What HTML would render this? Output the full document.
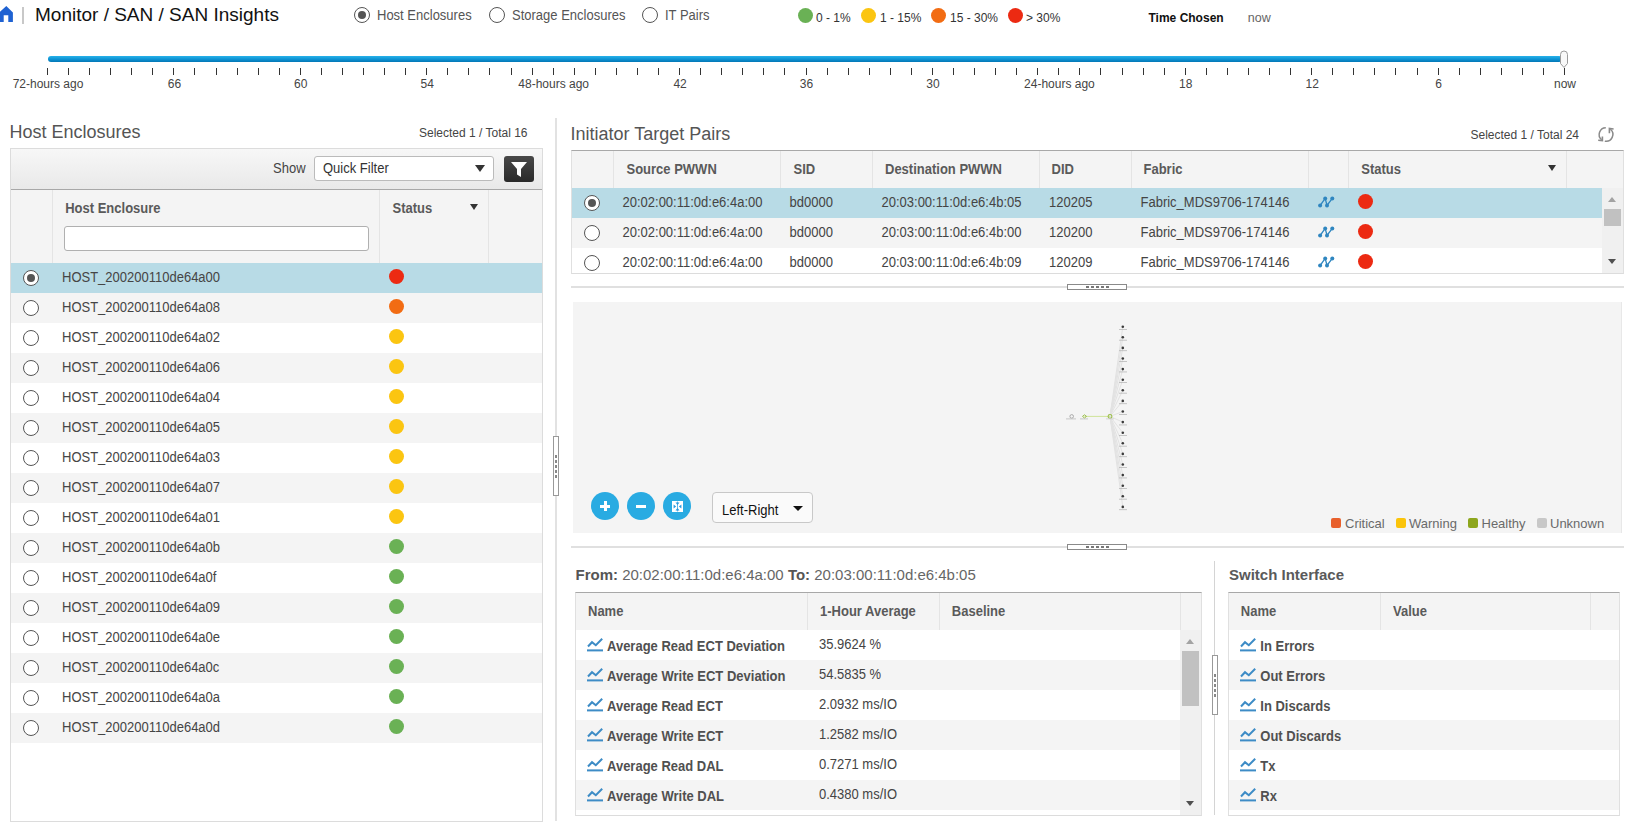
<!DOCTYPE html>
<html><head><meta charset="utf-8"><title>SAN Insights</title>
<style>
html,body{margin:0;padding:0;background:#fff;}
body{width:1630px;height:823px;overflow:hidden;position:relative;font-family:"Liberation Sans",sans-serif;}
.t{position:absolute;white-space:nowrap;line-height:1;}
.r{position:absolute;box-sizing:border-box;}
.dot{position:absolute;border-radius:50%;}
.radio{position:absolute;width:14px;height:14px;border:1px solid #555;border-radius:50%;background:#fff;}
.radio i{position:absolute;left:3px;top:3px;width:8px;height:8px;border-radius:50%;background:#555;}
.vl{position:absolute;width:1px;background:#e2e2e2;}
</style></head><body>
<svg class="r" style="left:0;top:6px" width="14" height="17" viewBox="0 0 14 17"><path d="M6.3,0 L12.9,6.6 L12.9,16 L8.3,16 L8.3,9.3 L3.7,9.3 L3.7,16 L-1,16 L-1,6.6 Z" fill="#1f62d2"/></svg>
<div class="r" style="left:22px;top:7px;width:1.5px;height:17px;background:#c8c8c8;"></div>
<div class="t" style="left:35.0px;top:4.9px;font-size:19px;color:#111;">Monitor / SAN / SAN Insights</div>
<div class="radio" style="left:354px;top:7px"><i></i></div>
<div class="t" style="left:377.0px;top:8.9px;font-size:13px;color:#555;transform:scaleY(1.1);transform-origin:0 11.01px;">Host Enclosures</div>
<div class="radio" style="left:489px;top:7px"></div>
<div class="t" style="left:512.0px;top:8.9px;font-size:13px;color:#555;transform:scaleY(1.1);transform-origin:0 11.01px;">Storage Enclosures</div>
<div class="radio" style="left:642px;top:7px"></div>
<div class="t" style="left:665.0px;top:8.9px;font-size:13px;color:#555;transform:scaleY(1.1);transform-origin:0 11.01px;">IT Pairs</div>
<div class="dot" style="left:798.0px;top:7.5px;width:15px;height:15px;background:#6ab155"></div>
<div class="t" style="left:816.0px;top:11.8px;font-size:12px;color:#333;">0 - 1%</div>
<div class="dot" style="left:860.5px;top:7.5px;width:15px;height:15px;background:#fbc511"></div>
<div class="t" style="left:880.0px;top:11.8px;font-size:12px;color:#333;">1 - 15%</div>
<div class="dot" style="left:931.3px;top:7.5px;width:15px;height:15px;background:#f26c13"></div>
<div class="t" style="left:950.0px;top:11.8px;font-size:12px;color:#333;">15 - 30%</div>
<div class="dot" style="left:1008.0px;top:7.5px;width:15px;height:15px;background:#ec2a12"></div>
<div class="t" style="left:1026.0px;top:11.8px;font-size:12px;color:#333;">&gt; 30%</div>
<div class="t" style="left:1148.5px;top:12.2px;font-size:12px;color:#111;font-weight:bold;">Time Chosen</div>
<div class="t" style="left:1247.8px;top:11.8px;font-size:12.5px;color:#666;">now</div>
<div class="r" style="left:48px;top:56px;width:1514px;height:6px;background:linear-gradient(#27b2ea,#0a8fd0 60%,#0577b5);border-radius:3px;"></div>
<svg class="r" style="left:1559px;top:50px" width="10" height="20" viewBox="0 0 10 20"><path d="M1.5,4.5 A3.5,3.5 0 0 1 8.5,4.5 L8.5,13.5 L5,17.5 L1.5,13.5 Z" fill="#f8f8f8" stroke="#9a9a9a" stroke-width="1"/></svg>
<div class="r" style="left:47px;top:68px;width:1px;height:7px;background:#333"></div>
<div class="r" style="left:68px;top:68px;width:1px;height:7px;background:#333"></div>
<div class="r" style="left:89px;top:68px;width:1px;height:7px;background:#333"></div>
<div class="r" style="left:110px;top:68px;width:1px;height:7px;background:#333"></div>
<div class="r" style="left:131px;top:68px;width:1px;height:7px;background:#333"></div>
<div class="r" style="left:152px;top:68px;width:1px;height:7px;background:#333"></div>
<div class="r" style="left:173px;top:68px;width:1px;height:7px;background:#333"></div>
<div class="r" style="left:194px;top:68px;width:1px;height:7px;background:#333"></div>
<div class="r" style="left:216px;top:68px;width:1px;height:7px;background:#333"></div>
<div class="r" style="left:237px;top:68px;width:1px;height:7px;background:#333"></div>
<div class="r" style="left:258px;top:68px;width:1px;height:7px;background:#333"></div>
<div class="r" style="left:279px;top:68px;width:1px;height:7px;background:#333"></div>
<div class="r" style="left:300px;top:68px;width:1px;height:7px;background:#333"></div>
<div class="r" style="left:321px;top:68px;width:1px;height:7px;background:#333"></div>
<div class="r" style="left:342px;top:68px;width:1px;height:7px;background:#333"></div>
<div class="r" style="left:363px;top:68px;width:1px;height:7px;background:#333"></div>
<div class="r" style="left:384px;top:68px;width:1px;height:7px;background:#333"></div>
<div class="r" style="left:405px;top:68px;width:1px;height:7px;background:#333"></div>
<div class="r" style="left:426px;top:68px;width:1px;height:7px;background:#333"></div>
<div class="r" style="left:447px;top:68px;width:1px;height:7px;background:#333"></div>
<div class="r" style="left:468px;top:68px;width:1px;height:7px;background:#333"></div>
<div class="r" style="left:489px;top:68px;width:1px;height:7px;background:#333"></div>
<div class="r" style="left:511px;top:68px;width:1px;height:7px;background:#333"></div>
<div class="r" style="left:532px;top:68px;width:1px;height:7px;background:#333"></div>
<div class="r" style="left:553px;top:68px;width:1px;height:7px;background:#333"></div>
<div class="r" style="left:574px;top:68px;width:1px;height:7px;background:#333"></div>
<div class="r" style="left:595px;top:68px;width:1px;height:7px;background:#333"></div>
<div class="r" style="left:616px;top:68px;width:1px;height:7px;background:#333"></div>
<div class="r" style="left:637px;top:68px;width:1px;height:7px;background:#333"></div>
<div class="r" style="left:658px;top:68px;width:1px;height:7px;background:#333"></div>
<div class="r" style="left:679px;top:68px;width:1px;height:7px;background:#333"></div>
<div class="r" style="left:700px;top:68px;width:1px;height:7px;background:#333"></div>
<div class="r" style="left:721px;top:68px;width:1px;height:7px;background:#333"></div>
<div class="r" style="left:742px;top:68px;width:1px;height:7px;background:#333"></div>
<div class="r" style="left:763px;top:68px;width:1px;height:7px;background:#333"></div>
<div class="r" style="left:784px;top:68px;width:1px;height:7px;background:#333"></div>
<div class="r" style="left:806px;top:68px;width:1px;height:7px;background:#333"></div>
<div class="r" style="left:827px;top:68px;width:1px;height:7px;background:#333"></div>
<div class="r" style="left:848px;top:68px;width:1px;height:7px;background:#333"></div>
<div class="r" style="left:869px;top:68px;width:1px;height:7px;background:#333"></div>
<div class="r" style="left:890px;top:68px;width:1px;height:7px;background:#333"></div>
<div class="r" style="left:911px;top:68px;width:1px;height:7px;background:#333"></div>
<div class="r" style="left:932px;top:68px;width:1px;height:7px;background:#333"></div>
<div class="r" style="left:953px;top:68px;width:1px;height:7px;background:#333"></div>
<div class="r" style="left:974px;top:68px;width:1px;height:7px;background:#333"></div>
<div class="r" style="left:995px;top:68px;width:1px;height:7px;background:#333"></div>
<div class="r" style="left:1016px;top:68px;width:1px;height:7px;background:#333"></div>
<div class="r" style="left:1037px;top:68px;width:1px;height:7px;background:#333"></div>
<div class="r" style="left:1058px;top:68px;width:1px;height:7px;background:#333"></div>
<div class="r" style="left:1079px;top:68px;width:1px;height:7px;background:#333"></div>
<div class="r" style="left:1100px;top:68px;width:1px;height:7px;background:#333"></div>
<div class="r" style="left:1122px;top:68px;width:1px;height:7px;background:#333"></div>
<div class="r" style="left:1143px;top:68px;width:1px;height:7px;background:#333"></div>
<div class="r" style="left:1164px;top:68px;width:1px;height:7px;background:#333"></div>
<div class="r" style="left:1185px;top:68px;width:1px;height:7px;background:#333"></div>
<div class="r" style="left:1206px;top:68px;width:1px;height:7px;background:#333"></div>
<div class="r" style="left:1227px;top:68px;width:1px;height:7px;background:#333"></div>
<div class="r" style="left:1248px;top:68px;width:1px;height:7px;background:#333"></div>
<div class="r" style="left:1269px;top:68px;width:1px;height:7px;background:#333"></div>
<div class="r" style="left:1290px;top:68px;width:1px;height:7px;background:#333"></div>
<div class="r" style="left:1311px;top:68px;width:1px;height:7px;background:#333"></div>
<div class="r" style="left:1332px;top:68px;width:1px;height:7px;background:#333"></div>
<div class="r" style="left:1353px;top:68px;width:1px;height:7px;background:#333"></div>
<div class="r" style="left:1374px;top:68px;width:1px;height:7px;background:#333"></div>
<div class="r" style="left:1395px;top:68px;width:1px;height:7px;background:#333"></div>
<div class="r" style="left:1417px;top:68px;width:1px;height:7px;background:#333"></div>
<div class="r" style="left:1438px;top:68px;width:1px;height:7px;background:#333"></div>
<div class="r" style="left:1459px;top:68px;width:1px;height:7px;background:#333"></div>
<div class="r" style="left:1480px;top:68px;width:1px;height:7px;background:#333"></div>
<div class="r" style="left:1501px;top:68px;width:1px;height:7px;background:#333"></div>
<div class="r" style="left:1522px;top:68px;width:1px;height:7px;background:#333"></div>
<div class="r" style="left:1543px;top:68px;width:1px;height:7px;background:#333"></div>
<div class="r" style="left:1564px;top:68px;width:1px;height:7px;background:#333"></div>
<div class="t" style="left:-52.0px;width:200px;text-align:center;top:77.8px;font-size:12px;color:#444">72-hours ago</div>
<div class="t" style="left:74.4px;width:200px;text-align:center;top:77.8px;font-size:12px;color:#444">66</div>
<div class="t" style="left:200.8px;width:200px;text-align:center;top:77.8px;font-size:12px;color:#444">60</div>
<div class="t" style="left:327.3px;width:200px;text-align:center;top:77.8px;font-size:12px;color:#444">54</div>
<div class="t" style="left:453.7px;width:200px;text-align:center;top:77.8px;font-size:12px;color:#444">48-hours ago</div>
<div class="t" style="left:580.1px;width:200px;text-align:center;top:77.8px;font-size:12px;color:#444">42</div>
<div class="t" style="left:706.5px;width:200px;text-align:center;top:77.8px;font-size:12px;color:#444">36</div>
<div class="t" style="left:832.9px;width:200px;text-align:center;top:77.8px;font-size:12px;color:#444">30</div>
<div class="t" style="left:959.4px;width:200px;text-align:center;top:77.8px;font-size:12px;color:#444">24-hours ago</div>
<div class="t" style="left:1085.8px;width:200px;text-align:center;top:77.8px;font-size:12px;color:#444">18</div>
<div class="t" style="left:1212.2px;width:200px;text-align:center;top:77.8px;font-size:12px;color:#444">12</div>
<div class="t" style="left:1338.6px;width:200px;text-align:center;top:77.8px;font-size:12px;color:#444">6</div>
<div class="t" style="left:1465.0px;width:200px;text-align:center;top:77.8px;font-size:12px;color:#444">now</div>
<div class="t" style="left:9.5px;top:122.7px;font-size:18px;color:#555;">Host Enclosures</div>
<div class="t" style="right:1102.5px;top:126.8px;font-size:12px;color:#444;">Selected 1 / Total 16</div>
<div class="r" style="left:10px;top:148px;width:533px;height:674px;background:#fff;border:1px solid #dcdcdc;"></div>
<div class="r" style="left:11px;top:149px;width:531px;height:40px;background:linear-gradient(#f7f7f7,#e9e9e9);"></div>
<div class="r" style="left:11px;top:189px;width:531px;height:1px;background:#a8a8a8;"></div>
<div class="t" style="left:273.0px;top:162.4px;font-size:13px;color:#444;transform:scaleY(1.1);transform-origin:0 11.01px;">Show</div>
<div class="r" style="left:314px;top:156px;width:180px;height:25px;background:#fff;border:1px solid #bbb;border-radius:3px;"></div>
<div class="t" style="left:323.0px;top:162.4px;font-size:13px;color:#333;transform:scaleY(1.1);transform-origin:0 11.01px;">Quick Filter</div>
<div class="r" style="left:475px;top:165px;width:0;height:0;border-left:5.0px solid transparent;border-right:5.0px solid transparent;border-top:7px solid #333"></div>
<div class="r" style="left:504px;top:156px;width:30px;height:26px;background:linear-gradient(#484848,#2a2a2a);border-radius:3px;"></div>
<svg class="r" style="left:510px;top:161px" width="18" height="17" viewBox="0 0 18 17"><path d="M1,1 L17,1 L11,8 L11,16 L7,13.5 L7,8 Z" fill="#fff"/></svg>
<div class="r" style="left:11px;top:190px;width:531px;height:73px;background:#f4f4f4;"></div>
<div class="vl" style="left:52px;top:190px;height:73px;background:#e4e4e4"></div>
<div class="vl" style="left:379px;top:190px;height:73px;background:#e4e4e4"></div>
<div class="vl" style="left:488px;top:190px;height:73px;background:#e4e4e4"></div>
<div class="t" style="left:65.2px;top:202.0px;font-size:13px;color:#5a5a5a;font-weight:bold;transform:scaleY(1.06);transform-origin:0 11.01px;">Host Enclosure</div>
<div class="r" style="left:64px;top:226px;width:305px;height:25px;background:#fff;border:1px solid #b0b0b0;border-radius:3px;"></div>
<div class="t" style="left:392.5px;top:202.0px;font-size:13px;color:#5a5a5a;font-weight:bold;transform:scaleY(1.06);transform-origin:0 11.01px;">Status</div>
<div class="r" style="left:470px;top:204px;width:0;height:0;border-left:4.5px solid transparent;border-right:4.5px solid transparent;border-top:6px solid #333"></div>
<div class="r" style="left:11px;top:263px;width:531px;height:30px;background:#b8dbe6;"></div>
<div class="radio" style="left:23px;top:270px"><i></i></div>
<div class="t" style="left:62.0px;top:271.0px;font-size:13px;color:#454545;transform:scaleY(1.1);transform-origin:0 11.01px;">HOST_200200110de64a00</div>
<div class="dot" style="left:388.9px;top:269.0px;width:15px;height:15px;background:#ec2a12"></div>
<div class="r" style="left:11px;top:293px;width:531px;height:30px;background:#f4f4f4;"></div>
<div class="radio" style="left:23px;top:300px"></div>
<div class="t" style="left:62.0px;top:301.0px;font-size:13px;color:#454545;transform:scaleY(1.1);transform-origin:0 11.01px;">HOST_200200110de64a08</div>
<div class="dot" style="left:388.9px;top:299.0px;width:15px;height:15px;background:#f26c13"></div>
<div class="r" style="left:11px;top:323px;width:531px;height:30px;background:#fff;"></div>
<div class="radio" style="left:23px;top:330px"></div>
<div class="t" style="left:62.0px;top:331.0px;font-size:13px;color:#454545;transform:scaleY(1.1);transform-origin:0 11.01px;">HOST_200200110de64a02</div>
<div class="dot" style="left:388.9px;top:329.0px;width:15px;height:15px;background:#fbc511"></div>
<div class="r" style="left:11px;top:353px;width:531px;height:30px;background:#f4f4f4;"></div>
<div class="radio" style="left:23px;top:360px"></div>
<div class="t" style="left:62.0px;top:361.0px;font-size:13px;color:#454545;transform:scaleY(1.1);transform-origin:0 11.01px;">HOST_200200110de64a06</div>
<div class="dot" style="left:388.9px;top:359.0px;width:15px;height:15px;background:#fbc511"></div>
<div class="r" style="left:11px;top:383px;width:531px;height:30px;background:#fff;"></div>
<div class="radio" style="left:23px;top:390px"></div>
<div class="t" style="left:62.0px;top:391.0px;font-size:13px;color:#454545;transform:scaleY(1.1);transform-origin:0 11.01px;">HOST_200200110de64a04</div>
<div class="dot" style="left:388.9px;top:389.0px;width:15px;height:15px;background:#fbc511"></div>
<div class="r" style="left:11px;top:413px;width:531px;height:30px;background:#f4f4f4;"></div>
<div class="radio" style="left:23px;top:420px"></div>
<div class="t" style="left:62.0px;top:421.0px;font-size:13px;color:#454545;transform:scaleY(1.1);transform-origin:0 11.01px;">HOST_200200110de64a05</div>
<div class="dot" style="left:388.9px;top:419.0px;width:15px;height:15px;background:#fbc511"></div>
<div class="r" style="left:11px;top:443px;width:531px;height:30px;background:#fff;"></div>
<div class="radio" style="left:23px;top:450px"></div>
<div class="t" style="left:62.0px;top:451.0px;font-size:13px;color:#454545;transform:scaleY(1.1);transform-origin:0 11.01px;">HOST_200200110de64a03</div>
<div class="dot" style="left:388.9px;top:449.0px;width:15px;height:15px;background:#fbc511"></div>
<div class="r" style="left:11px;top:473px;width:531px;height:30px;background:#f4f4f4;"></div>
<div class="radio" style="left:23px;top:480px"></div>
<div class="t" style="left:62.0px;top:481.0px;font-size:13px;color:#454545;transform:scaleY(1.1);transform-origin:0 11.01px;">HOST_200200110de64a07</div>
<div class="dot" style="left:388.9px;top:479.0px;width:15px;height:15px;background:#fbc511"></div>
<div class="r" style="left:11px;top:503px;width:531px;height:30px;background:#fff;"></div>
<div class="radio" style="left:23px;top:510px"></div>
<div class="t" style="left:62.0px;top:511.0px;font-size:13px;color:#454545;transform:scaleY(1.1);transform-origin:0 11.01px;">HOST_200200110de64a01</div>
<div class="dot" style="left:388.9px;top:509.0px;width:15px;height:15px;background:#fbc511"></div>
<div class="r" style="left:11px;top:533px;width:531px;height:30px;background:#f4f4f4;"></div>
<div class="radio" style="left:23px;top:540px"></div>
<div class="t" style="left:62.0px;top:541.0px;font-size:13px;color:#454545;transform:scaleY(1.1);transform-origin:0 11.01px;">HOST_200200110de64a0b</div>
<div class="dot" style="left:388.9px;top:539.0px;width:15px;height:15px;background:#6ab155"></div>
<div class="r" style="left:11px;top:563px;width:531px;height:30px;background:#fff;"></div>
<div class="radio" style="left:23px;top:570px"></div>
<div class="t" style="left:62.0px;top:571.0px;font-size:13px;color:#454545;transform:scaleY(1.1);transform-origin:0 11.01px;">HOST_200200110de64a0f</div>
<div class="dot" style="left:388.9px;top:569.0px;width:15px;height:15px;background:#6ab155"></div>
<div class="r" style="left:11px;top:593px;width:531px;height:30px;background:#f4f4f4;"></div>
<div class="radio" style="left:23px;top:600px"></div>
<div class="t" style="left:62.0px;top:601.0px;font-size:13px;color:#454545;transform:scaleY(1.1);transform-origin:0 11.01px;">HOST_200200110de64a09</div>
<div class="dot" style="left:388.9px;top:599.0px;width:15px;height:15px;background:#6ab155"></div>
<div class="r" style="left:11px;top:623px;width:531px;height:30px;background:#fff;"></div>
<div class="radio" style="left:23px;top:630px"></div>
<div class="t" style="left:62.0px;top:631.0px;font-size:13px;color:#454545;transform:scaleY(1.1);transform-origin:0 11.01px;">HOST_200200110de64a0e</div>
<div class="dot" style="left:388.9px;top:629.0px;width:15px;height:15px;background:#6ab155"></div>
<div class="r" style="left:11px;top:653px;width:531px;height:30px;background:#f4f4f4;"></div>
<div class="radio" style="left:23px;top:660px"></div>
<div class="t" style="left:62.0px;top:661.0px;font-size:13px;color:#454545;transform:scaleY(1.1);transform-origin:0 11.01px;">HOST_200200110de64a0c</div>
<div class="dot" style="left:388.9px;top:659.0px;width:15px;height:15px;background:#6ab155"></div>
<div class="r" style="left:11px;top:683px;width:531px;height:30px;background:#fff;"></div>
<div class="radio" style="left:23px;top:690px"></div>
<div class="t" style="left:62.0px;top:691.0px;font-size:13px;color:#454545;transform:scaleY(1.1);transform-origin:0 11.01px;">HOST_200200110de64a0a</div>
<div class="dot" style="left:388.9px;top:689.0px;width:15px;height:15px;background:#6ab155"></div>
<div class="r" style="left:11px;top:713px;width:531px;height:30px;background:#f4f4f4;"></div>
<div class="radio" style="left:23px;top:720px"></div>
<div class="t" style="left:62.0px;top:721.0px;font-size:13px;color:#454545;transform:scaleY(1.1);transform-origin:0 11.01px;">HOST_200200110de64a0d</div>
<div class="dot" style="left:388.9px;top:719.0px;width:15px;height:15px;background:#6ab155"></div>
<div class="r" style="left:555px;top:118px;width:2px;height:703px;background:#e2e2e2;"></div>
<div class="r" style="left:553px;top:436px;width:6px;height:60px;background:#fff;border:1px solid #999;"></div>
<div class="r" style="left:555px;top:455px;width:2px;height:3px;background:#888;"></div>
<div class="r" style="left:555px;top:460px;width:2px;height:3px;background:#888;"></div>
<div class="r" style="left:555px;top:465px;width:2px;height:3px;background:#888;"></div>
<div class="r" style="left:555px;top:470px;width:2px;height:3px;background:#888;"></div>
<div class="r" style="left:555px;top:475px;width:2px;height:3px;background:#888;"></div>
<div class="t" style="left:570.5px;top:124.6px;font-size:18px;color:#555;">Initiator Target Pairs</div>
<div class="t" style="right:51.0px;top:129.0px;font-size:12px;color:#444;">Selected 1 / Total 24</div>
<svg class="r" style="left:1596px;top:124px" width="22" height="22" viewBox="0 0 22 22"><path d="M9.8,3.7 A6.8,6.8 0 0 0 5.6,15.7" fill="none" stroke="#8a8a8a" stroke-width="1.5"/><path d="M8.8,17.2 A6.8,6.8 0 0 0 14.4,5.3" fill="none" stroke="#8a8a8a" stroke-width="1.5"/><polyline points="6.4,12.4 6.4,16.6 2.2,16.3" fill="none" stroke="#8a8a8a" stroke-width="1.6"/><polyline points="13.4,9.3 13.4,4.5 17.6,5.0" fill="none" stroke="#8a8a8a" stroke-width="1.6"/></svg>
<div class="r" style="left:571px;top:150px;width:1053px;height:124px;background:#fff;border-top:1px solid #a8a8a8;border-left:1px solid #e0e0e0;border-right:1px solid #e0e0e0;border-bottom:1px solid #dcdcdc;"></div>
<div class="r" style="left:572px;top:151px;width:1051px;height:37px;background:#f4f4f4;"></div>
<div class="vl" style="left:613px;top:151px;height:37px;background:#e4e4e4"></div>
<div class="vl" style="left:780px;top:151px;height:37px;background:#e4e4e4"></div>
<div class="vl" style="left:872px;top:151px;height:37px;background:#e4e4e4"></div>
<div class="vl" style="left:1039px;top:151px;height:37px;background:#e4e4e4"></div>
<div class="vl" style="left:1131px;top:151px;height:37px;background:#e4e4e4"></div>
<div class="vl" style="left:1308px;top:151px;height:37px;background:#e4e4e4"></div>
<div class="vl" style="left:1348px;top:151px;height:37px;background:#e4e4e4"></div>
<div class="vl" style="left:1566px;top:151px;height:37px;background:#e4e4e4"></div>
<div class="t" style="left:626.5px;top:163.0px;font-size:13px;color:#5a5a5a;font-weight:bold;transform:scaleY(1.06);transform-origin:0 11.01px;">Source PWWN</div>
<div class="t" style="left:793.5px;top:163.0px;font-size:13px;color:#5a5a5a;font-weight:bold;transform:scaleY(1.06);transform-origin:0 11.01px;">SID</div>
<div class="t" style="left:885.0px;top:163.0px;font-size:13px;color:#5a5a5a;font-weight:bold;transform:scaleY(1.06);transform-origin:0 11.01px;">Destination PWWN</div>
<div class="t" style="left:1051.5px;top:163.0px;font-size:13px;color:#5a5a5a;font-weight:bold;transform:scaleY(1.06);transform-origin:0 11.01px;">DID</div>
<div class="t" style="left:1143.5px;top:163.0px;font-size:13px;color:#5a5a5a;font-weight:bold;transform:scaleY(1.06);transform-origin:0 11.01px;">Fabric</div>
<div class="t" style="left:1361.3px;top:163.0px;font-size:13px;color:#5a5a5a;font-weight:bold;transform:scaleY(1.06);transform-origin:0 11.01px;">Status</div>
<div class="r" style="left:1548px;top:165px;width:0;height:0;border-left:4.5px solid transparent;border-right:4.5px solid transparent;border-top:6px solid #333"></div>
<div class="r" style="left:572px;top:188px;width:1030px;height:30px;background:#b8dbe6;"></div>
<div class="radio" style="left:584px;top:195px"><i></i></div>
<div class="t" style="left:622.5px;top:195.5px;font-size:13px;color:#444;transform:scaleY(1.1);transform-origin:0 11.01px;">20:02:00:11:0d:e6:4a:00</div>
<div class="t" style="left:789.5px;top:195.5px;font-size:13px;color:#444;transform:scaleY(1.1);transform-origin:0 11.01px;">bd0000</div>
<div class="t" style="left:881.5px;top:195.5px;font-size:13px;color:#444;transform:scaleY(1.1);transform-origin:0 11.01px;">20:03:00:11:0d:e6:4b:05</div>
<div class="t" style="left:1049.0px;top:195.5px;font-size:13px;color:#444;transform:scaleY(1.1);transform-origin:0 11.01px;">120205</div>
<div class="t" style="left:1140.5px;top:195.5px;font-size:13px;color:#444;transform:scaleY(1.1);transform-origin:0 11.01px;">Fabric_MDS9706-174146</div>
<svg class="r" style="left:1318px;top:196px" width="17" height="12" viewBox="0 0 17 12"><polyline points="2.1,9.5 7.2,2.4 9,9.5 14.3,2.4" fill="none" stroke="#2f86c0" stroke-width="1.3"/><circle cx="2.1" cy="9.5" r="2" fill="#2f86c0"/><circle cx="7.2" cy="2.4" r="2" fill="#2f86c0"/><circle cx="9" cy="9.5" r="2" fill="#2f86c0"/><circle cx="14.3" cy="2.4" r="2" fill="#2f86c0"/></svg>
<div class="dot" style="left:1357.9px;top:193.8px;width:15px;height:15px;background:#ec2a12"></div>
<div class="r" style="left:572px;top:218px;width:1030px;height:30px;background:#f4f4f4;"></div>
<div class="radio" style="left:584px;top:225px"></div>
<div class="t" style="left:622.5px;top:225.5px;font-size:13px;color:#444;transform:scaleY(1.1);transform-origin:0 11.01px;">20:02:00:11:0d:e6:4a:00</div>
<div class="t" style="left:789.5px;top:225.5px;font-size:13px;color:#444;transform:scaleY(1.1);transform-origin:0 11.01px;">bd0000</div>
<div class="t" style="left:881.5px;top:225.5px;font-size:13px;color:#444;transform:scaleY(1.1);transform-origin:0 11.01px;">20:03:00:11:0d:e6:4b:00</div>
<div class="t" style="left:1049.0px;top:225.5px;font-size:13px;color:#444;transform:scaleY(1.1);transform-origin:0 11.01px;">120200</div>
<div class="t" style="left:1140.5px;top:225.5px;font-size:13px;color:#444;transform:scaleY(1.1);transform-origin:0 11.01px;">Fabric_MDS9706-174146</div>
<svg class="r" style="left:1318px;top:226px" width="17" height="12" viewBox="0 0 17 12"><polyline points="2.1,9.5 7.2,2.4 9,9.5 14.3,2.4" fill="none" stroke="#2f86c0" stroke-width="1.3"/><circle cx="2.1" cy="9.5" r="2" fill="#2f86c0"/><circle cx="7.2" cy="2.4" r="2" fill="#2f86c0"/><circle cx="9" cy="9.5" r="2" fill="#2f86c0"/><circle cx="14.3" cy="2.4" r="2" fill="#2f86c0"/></svg>
<div class="dot" style="left:1357.9px;top:223.8px;width:15px;height:15px;background:#ec2a12"></div>
<div class="r" style="left:572px;top:248px;width:1030px;height:25px;background:#fff;"></div>
<div class="radio" style="left:584px;top:255px"></div>
<div class="t" style="left:622.5px;top:255.5px;font-size:13px;color:#444;transform:scaleY(1.1);transform-origin:0 11.01px;">20:02:00:11:0d:e6:4a:00</div>
<div class="t" style="left:789.5px;top:255.5px;font-size:13px;color:#444;transform:scaleY(1.1);transform-origin:0 11.01px;">bd0000</div>
<div class="t" style="left:881.5px;top:255.5px;font-size:13px;color:#444;transform:scaleY(1.1);transform-origin:0 11.01px;">20:03:00:11:0d:e6:4b:09</div>
<div class="t" style="left:1049.0px;top:255.5px;font-size:13px;color:#444;transform:scaleY(1.1);transform-origin:0 11.01px;">120209</div>
<div class="t" style="left:1140.5px;top:255.5px;font-size:13px;color:#444;transform:scaleY(1.1);transform-origin:0 11.01px;">Fabric_MDS9706-174146</div>
<svg class="r" style="left:1318px;top:256px" width="17" height="12" viewBox="0 0 17 12"><polyline points="2.1,9.5 7.2,2.4 9,9.5 14.3,2.4" fill="none" stroke="#2f86c0" stroke-width="1.3"/><circle cx="2.1" cy="9.5" r="2" fill="#2f86c0"/><circle cx="7.2" cy="2.4" r="2" fill="#2f86c0"/><circle cx="9" cy="9.5" r="2" fill="#2f86c0"/><circle cx="14.3" cy="2.4" r="2" fill="#2f86c0"/></svg>
<div class="dot" style="left:1357.9px;top:253.8px;width:15px;height:15px;background:#ec2a12"></div>
<div class="r" style="left:1602px;top:188px;width:21px;height:85px;background:#f0f0f0;"></div>
<div class="r" style="left:1607.5px;top:197px;width:0;height:0;border-left:4.5px solid transparent;border-right:4.5px solid transparent;border-bottom:5px solid #a3a3a3"></div>
<div class="r" style="left:1604px;top:209px;width:17px;height:17px;background:#c1c1c1;"></div>
<div class="r" style="left:1607.5px;top:259px;width:0;height:0;border-left:4.5px solid transparent;border-right:4.5px solid transparent;border-top:5px solid #505050"></div>
<div class="r" style="left:571px;top:286px;width:1053px;height:2px;background:#e0e0e0;"></div>
<div class="r" style="left:1067px;top:284px;width:60px;height:6px;background:#fff;border:1px solid #8a8a8a;"></div>
<div class="r" style="left:1086px;top:286px;width:3px;height:2px;background:#777;"></div>
<div class="r" style="left:1091px;top:286px;width:3px;height:2px;background:#777;"></div>
<div class="r" style="left:1096px;top:286px;width:3px;height:2px;background:#777;"></div>
<div class="r" style="left:1101px;top:286px;width:3px;height:2px;background:#777;"></div>
<div class="r" style="left:1106px;top:286px;width:3px;height:2px;background:#777;"></div>
<div class="r" style="left:573px;top:302px;width:1049px;height:231px;background:#f4f4f4;border-right:1px solid #e8e8e8;"></div>
<div class="dot" style="left:591.0px;top:492.0px;width:28px;height:28px;background:#29abe2"></div>
<div class="dot" style="left:627.0px;top:492.0px;width:28px;height:28px;background:#29abe2"></div>
<div class="dot" style="left:663.0px;top:492.0px;width:28px;height:28px;background:#29abe2"></div>
<div class="r" style="left:600px;top:504.5px;width:10px;height:3px;background:#fff;"></div>
<div class="r" style="left:603.5px;top:501px;width:3px;height:10px;background:#fff;"></div>
<div class="r" style="left:636px;top:504.5px;width:10px;height:3px;background:#fff;"></div>
<svg class="r" style="left:672px;top:501px" width="11" height="11" viewBox="0 0 11 11"><rect width="11" height="11" fill="#fff"/><path d="M3.5,1.6 L7.5,1.6 L5.5,4.1Z M3.5,9.4 L7.5,9.4 L5.5,6.9Z M1.6,3.5 L1.6,7.5 L4.1,5.5Z M9.4,3.5 L9.4,7.5 L6.9,5.5Z" fill="#2a9be0"/><path d="M5.5,0.5 L5.5,10.5" stroke="#2a9be0" stroke-width="0.7"/></svg>
<div class="r" style="left:712px;top:492px;width:101px;height:31px;background:#fafafa;border:1px solid #c8c8c8;border-radius:4px;"></div>
<div class="t" style="left:722.0px;top:504.0px;font-size:13px;color:#111;transform:scaleY(1.1);transform-origin:0 11.01px;">Left-Right</div>
<div class="r" style="left:793px;top:506px;width:0;height:0;border-left:5.0px solid transparent;border-right:5.0px solid transparent;border-top:5px solid #111"></div>
<div class="r" style="left:1331px;top:518px;width:10px;height:10px;background:#e8602c;border-radius:2px;"></div>
<div class="t" style="left:1345.0px;top:516.5px;font-size:13px;color:#6a6a6a;transform:scaleY(1.1);transform-origin:0 11.01px;transform:none;">Critical</div>
<div class="r" style="left:1396px;top:518px;width:10px;height:10px;background:#fbc40a;border-radius:2px;"></div>
<div class="t" style="left:1409.0px;top:516.5px;font-size:13px;color:#6a6a6a;transform:scaleY(1.1);transform-origin:0 11.01px;transform:none;">Warning</div>
<div class="r" style="left:1468px;top:518px;width:10px;height:10px;background:#8da61d;border-radius:2px;"></div>
<div class="t" style="left:1481.5px;top:516.5px;font-size:13px;color:#6a6a6a;transform:scaleY(1.1);transform-origin:0 11.01px;transform:none;">Healthy</div>
<div class="r" style="left:1537px;top:518px;width:10px;height:10px;background:#c8c8c8;border-radius:2px;"></div>
<div class="t" style="left:1550.0px;top:516.5px;font-size:13px;color:#6a6a6a;transform:scaleY(1.1);transform-origin:0 11.01px;transform:none;">Unknown</div>
<svg class="r" style="left:1060px;top:320px" width="80" height="195" viewBox="1060 320 80 195"><line x1="1110" y1="416.4" x2="1122.8" y2="326.7" stroke="#e2e2e2" stroke-width="1"/><line x1="1110" y1="416.4" x2="1122.8" y2="337.3" stroke="#e2e2e2" stroke-width="1"/><line x1="1110" y1="416.4" x2="1122.8" y2="347.9" stroke="#e2e2e2" stroke-width="1"/><line x1="1110" y1="416.4" x2="1122.8" y2="358.5" stroke="#e2e2e2" stroke-width="1"/><line x1="1110" y1="416.4" x2="1122.8" y2="369.1" stroke="#e2e2e2" stroke-width="1"/><line x1="1110" y1="416.4" x2="1122.8" y2="379.7" stroke="#e2e2e2" stroke-width="1"/><line x1="1110" y1="416.4" x2="1122.8" y2="390.3" stroke="#e2e2e2" stroke-width="1"/><line x1="1110" y1="416.4" x2="1122.8" y2="400.9" stroke="#e2e2e2" stroke-width="1"/><line x1="1110" y1="416.4" x2="1122.8" y2="411.5" stroke="#e2e2e2" stroke-width="1"/><line x1="1110" y1="416.4" x2="1122.8" y2="422.1" stroke="#e2e2e2" stroke-width="1"/><line x1="1110" y1="416.4" x2="1122.8" y2="432.7" stroke="#e2e2e2" stroke-width="1"/><line x1="1110" y1="416.4" x2="1122.8" y2="443.3" stroke="#e2e2e2" stroke-width="1"/><line x1="1110" y1="416.4" x2="1122.8" y2="453.9" stroke="#e2e2e2" stroke-width="1"/><line x1="1110" y1="416.4" x2="1122.8" y2="464.5" stroke="#e2e2e2" stroke-width="1"/><line x1="1110" y1="416.4" x2="1122.8" y2="475.1" stroke="#e2e2e2" stroke-width="1"/><line x1="1110" y1="416.4" x2="1122.8" y2="485.7" stroke="#e2e2e2" stroke-width="1"/><line x1="1110" y1="416.4" x2="1122.8" y2="496.3" stroke="#e2e2e2" stroke-width="1"/><line x1="1110" y1="416.4" x2="1122.8" y2="506.9" stroke="#e2e2e2" stroke-width="1"/><line x1="1084.5" y1="416.4" x2="1110" y2="416.4" stroke="#cfe39a" stroke-width="1"/><circle cx="1071.7" cy="416.4" r="1.8" fill="none" stroke="#999" stroke-width="0.8"/><path d="M1082.5,416.4 L1084.5,414.8 L1086.5,416.4 L1084.5,418Z" fill="none" stroke="#9cbf4a" stroke-width="1"/><circle cx="1110" cy="416.4" r="1.9" fill="none" stroke="#9cbf4a" stroke-width="1.1"/><rect x="1066" y="418.5" width="10" height="0.8" fill="#bbb"/><rect x="1080" y="418.5" width="8" height="0.8" fill="#bbb"/><rect x="1106" y="418.5" width="8" height="0.8" fill="#ccc"/><circle cx="1122.8" cy="326.7" r="1.3" fill="#3a3a3a"/><rect x="1119" y="329.2" width="8" height="0.7" fill="#b0b0b0"/><circle cx="1122.8" cy="337.3" r="1.3" fill="#3a3a3a"/><rect x="1119" y="339.8" width="8" height="0.7" fill="#b0b0b0"/><circle cx="1122.8" cy="347.9" r="1.3" fill="#3a3a3a"/><rect x="1119" y="350.4" width="8" height="0.7" fill="#b0b0b0"/><circle cx="1122.8" cy="358.5" r="1.3" fill="#3a3a3a"/><rect x="1119" y="361.0" width="8" height="0.7" fill="#b0b0b0"/><circle cx="1122.8" cy="369.1" r="1.3" fill="#3a3a3a"/><rect x="1119" y="371.6" width="8" height="0.7" fill="#b0b0b0"/><circle cx="1122.8" cy="379.7" r="1.3" fill="#3a3a3a"/><rect x="1119" y="382.2" width="8" height="0.7" fill="#b0b0b0"/><circle cx="1122.8" cy="390.3" r="1.3" fill="#3a3a3a"/><rect x="1119" y="392.8" width="8" height="0.7" fill="#b0b0b0"/><circle cx="1122.8" cy="400.9" r="1.3" fill="#3a3a3a"/><rect x="1119" y="403.4" width="8" height="0.7" fill="#b0b0b0"/><circle cx="1122.8" cy="411.5" r="1.3" fill="#3a3a3a"/><rect x="1119" y="414.0" width="8" height="0.7" fill="#b0b0b0"/><circle cx="1122.8" cy="422.1" r="1.3" fill="#3a3a3a"/><rect x="1119" y="424.6" width="8" height="0.7" fill="#b0b0b0"/><circle cx="1122.8" cy="432.7" r="1.3" fill="#3a3a3a"/><rect x="1119" y="435.2" width="8" height="0.7" fill="#b0b0b0"/><circle cx="1122.8" cy="443.3" r="1.3" fill="#3a3a3a"/><rect x="1119" y="445.8" width="8" height="0.7" fill="#b0b0b0"/><circle cx="1122.8" cy="453.9" r="1.3" fill="#3a3a3a"/><rect x="1119" y="456.4" width="8" height="0.7" fill="#b0b0b0"/><circle cx="1122.8" cy="464.5" r="1.3" fill="#3a3a3a"/><rect x="1119" y="467.0" width="8" height="0.7" fill="#b0b0b0"/><circle cx="1122.8" cy="475.1" r="1.3" fill="#3a3a3a"/><rect x="1119" y="477.6" width="8" height="0.7" fill="#b0b0b0"/><circle cx="1122.8" cy="485.7" r="1.3" fill="#3a3a3a"/><rect x="1119" y="488.2" width="8" height="0.7" fill="#b0b0b0"/><circle cx="1122.8" cy="496.3" r="1.3" fill="#3a3a3a"/><rect x="1119" y="498.8" width="8" height="0.7" fill="#b0b0b0"/><circle cx="1122.8" cy="506.9" r="1.3" fill="#3a3a3a"/><rect x="1119" y="509.4" width="8" height="0.7" fill="#b0b0b0"/></svg>
<div class="r" style="left:571px;top:546px;width:1053px;height:2px;background:#e0e0e0;"></div>
<div class="r" style="left:1067px;top:544px;width:60px;height:6px;background:#fff;border:1px solid #8a8a8a;"></div>
<div class="r" style="left:1086px;top:546px;width:3px;height:2px;background:#777;"></div>
<div class="r" style="left:1091px;top:546px;width:3px;height:2px;background:#777;"></div>
<div class="r" style="left:1096px;top:546px;width:3px;height:2px;background:#777;"></div>
<div class="r" style="left:1101px;top:546px;width:3px;height:2px;background:#777;"></div>
<div class="r" style="left:1106px;top:546px;width:3px;height:2px;background:#777;"></div>
<div class="t" style="left:575.5px;top:567.3px;font-size:15px;color:#666"><b style="color:#555">From:</b> 20:02:00:11:0d:e6:4a:00 <b style="color:#555">To:</b> 20:03:00:11:0d:e6:4b:05</div>
<div class="r" style="left:575px;top:592px;width:627px;height:224px;background:#fff;border-top:1px solid #a8a8a8;border-left:1px solid #e0e0e0;border-right:1px solid #e0e0e0;border-bottom:1px solid #dcdcdc;"></div>
<div class="r" style="left:576px;top:593px;width:625px;height:37px;background:#f4f4f4;"></div>
<div class="vl" style="left:807px;top:593px;height:37px;background:#e4e4e4"></div>
<div class="vl" style="left:939px;top:593px;height:37px;background:#e4e4e4"></div>
<div class="vl" style="left:1180px;top:593px;height:37px;background:#e4e4e4"></div>
<div class="t" style="left:588.0px;top:604.8px;font-size:13px;color:#5a5a5a;font-weight:bold;transform:scaleY(1.06);transform-origin:0 11.01px;">Name</div>
<div class="t" style="left:820.0px;top:604.8px;font-size:13px;color:#5a5a5a;font-weight:bold;transform:scaleY(1.06);transform-origin:0 11.01px;">1-Hour Average</div>
<div class="t" style="left:951.8px;top:604.8px;font-size:13px;color:#5a5a5a;font-weight:bold;transform:scaleY(1.06);transform-origin:0 11.01px;">Baseline</div>
<div class="r" style="left:576px;top:630px;width:604px;height:30px;background:#fff;"></div>
<svg class="r" style="left:587px;top:637.5px" width="17" height="14" viewBox="0 0 17 14"><polyline points="1,8.5 5,4.2 8.8,7.2 15.2,0.8" fill="none" stroke="#3d8cc6" stroke-width="2"/><rect x="0" y="11.4" width="16" height="2" fill="#3d8cc6"/></svg>
<div class="t" style="left:607.0px;top:639.6px;font-size:13px;color:#505050;font-weight:bold;transform:scaleY(1.06);transform-origin:0 11.01px;">Average Read ECT Deviation</div>
<div class="t" style="left:819.0px;top:638.0px;font-size:13px;color:#444;transform:scaleY(1.1);transform-origin:0 11.01px;">35.9624 %</div>
<div class="r" style="left:576px;top:660px;width:604px;height:30px;background:#f4f4f4;"></div>
<svg class="r" style="left:587px;top:667.5px" width="17" height="14" viewBox="0 0 17 14"><polyline points="1,8.5 5,4.2 8.8,7.2 15.2,0.8" fill="none" stroke="#3d8cc6" stroke-width="2"/><rect x="0" y="11.4" width="16" height="2" fill="#3d8cc6"/></svg>
<div class="t" style="left:607.0px;top:669.6px;font-size:13px;color:#505050;font-weight:bold;transform:scaleY(1.06);transform-origin:0 11.01px;">Average Write ECT Deviation</div>
<div class="t" style="left:819.0px;top:668.0px;font-size:13px;color:#444;transform:scaleY(1.1);transform-origin:0 11.01px;">54.5835 %</div>
<div class="r" style="left:576px;top:690px;width:604px;height:30px;background:#fff;"></div>
<svg class="r" style="left:587px;top:697.5px" width="17" height="14" viewBox="0 0 17 14"><polyline points="1,8.5 5,4.2 8.8,7.2 15.2,0.8" fill="none" stroke="#3d8cc6" stroke-width="2"/><rect x="0" y="11.4" width="16" height="2" fill="#3d8cc6"/></svg>
<div class="t" style="left:607.0px;top:699.6px;font-size:13px;color:#505050;font-weight:bold;transform:scaleY(1.06);transform-origin:0 11.01px;">Average Read ECT</div>
<div class="t" style="left:819.0px;top:698.0px;font-size:13px;color:#444;transform:scaleY(1.1);transform-origin:0 11.01px;">2.0932 ms/IO</div>
<div class="r" style="left:576px;top:720px;width:604px;height:30px;background:#f4f4f4;"></div>
<svg class="r" style="left:587px;top:727.5px" width="17" height="14" viewBox="0 0 17 14"><polyline points="1,8.5 5,4.2 8.8,7.2 15.2,0.8" fill="none" stroke="#3d8cc6" stroke-width="2"/><rect x="0" y="11.4" width="16" height="2" fill="#3d8cc6"/></svg>
<div class="t" style="left:607.0px;top:729.6px;font-size:13px;color:#505050;font-weight:bold;transform:scaleY(1.06);transform-origin:0 11.01px;">Average Write ECT</div>
<div class="t" style="left:819.0px;top:728.0px;font-size:13px;color:#444;transform:scaleY(1.1);transform-origin:0 11.01px;">1.2582 ms/IO</div>
<div class="r" style="left:576px;top:750px;width:604px;height:30px;background:#fff;"></div>
<svg class="r" style="left:587px;top:757.5px" width="17" height="14" viewBox="0 0 17 14"><polyline points="1,8.5 5,4.2 8.8,7.2 15.2,0.8" fill="none" stroke="#3d8cc6" stroke-width="2"/><rect x="0" y="11.4" width="16" height="2" fill="#3d8cc6"/></svg>
<div class="t" style="left:607.0px;top:759.6px;font-size:13px;color:#505050;font-weight:bold;transform:scaleY(1.06);transform-origin:0 11.01px;">Average Read DAL</div>
<div class="t" style="left:819.0px;top:758.0px;font-size:13px;color:#444;transform:scaleY(1.1);transform-origin:0 11.01px;">0.7271 ms/IO</div>
<div class="r" style="left:576px;top:780px;width:604px;height:30px;background:#f4f4f4;"></div>
<svg class="r" style="left:587px;top:787.5px" width="17" height="14" viewBox="0 0 17 14"><polyline points="1,8.5 5,4.2 8.8,7.2 15.2,0.8" fill="none" stroke="#3d8cc6" stroke-width="2"/><rect x="0" y="11.4" width="16" height="2" fill="#3d8cc6"/></svg>
<div class="t" style="left:607.0px;top:789.6px;font-size:13px;color:#505050;font-weight:bold;transform:scaleY(1.06);transform-origin:0 11.01px;">Average Write DAL</div>
<div class="t" style="left:819.0px;top:788.0px;font-size:13px;color:#444;transform:scaleY(1.1);transform-origin:0 11.01px;">0.4380 ms/IO</div>
<div class="r" style="left:1180px;top:630px;width:21px;height:185px;background:#f0f0f0;"></div>
<div class="r" style="left:1186px;top:639px;width:0;height:0;border-left:4.5px solid transparent;border-right:4.5px solid transparent;border-bottom:5px solid #a3a3a3"></div>
<div class="r" style="left:1182px;top:651px;width:17px;height:55px;background:#c1c1c1;"></div>
<div class="r" style="left:1186px;top:800.5px;width:0;height:0;border-left:4.5px solid transparent;border-right:4.5px solid transparent;border-top:5px solid #505050"></div>
<div class="r" style="left:1214px;top:561px;width:1px;height:254px;background:#d4d4d4;"></div>
<div class="r" style="left:1212px;top:655px;width:6px;height:60px;background:#fff;border:1px solid #999;"></div>
<div class="r" style="left:1214px;top:674px;width:2px;height:3px;background:#888;"></div>
<div class="r" style="left:1214px;top:679px;width:2px;height:3px;background:#888;"></div>
<div class="r" style="left:1214px;top:684px;width:2px;height:3px;background:#888;"></div>
<div class="r" style="left:1214px;top:689px;width:2px;height:3px;background:#888;"></div>
<div class="r" style="left:1214px;top:694px;width:2px;height:3px;background:#888;"></div>
<div class="t" style="left:1229.0px;top:567.4px;font-size:15px;color:#5a5a5a;font-weight:bold;">Switch Interface</div>
<div class="r" style="left:1228px;top:592px;width:392px;height:224px;background:#fff;border-top:1px solid #a8a8a8;border-left:1px solid #e0e0e0;border-right:1px solid #e0e0e0;border-bottom:1px solid #dcdcdc;"></div>
<div class="r" style="left:1229px;top:593px;width:390px;height:37px;background:#f4f4f4;"></div>
<div class="vl" style="left:1380px;top:593px;height:37px;background:#e4e4e4"></div>
<div class="vl" style="left:1590px;top:593px;height:37px;background:#e4e4e4"></div>
<div class="t" style="left:1240.8px;top:604.8px;font-size:13px;color:#5a5a5a;font-weight:bold;transform:scaleY(1.06);transform-origin:0 11.01px;">Name</div>
<div class="t" style="left:1393.0px;top:604.8px;font-size:13px;color:#5a5a5a;font-weight:bold;transform:scaleY(1.06);transform-origin:0 11.01px;">Value</div>
<div class="r" style="left:1229px;top:630px;width:390px;height:30px;background:#fff;"></div>
<svg class="r" style="left:1240px;top:637.5px" width="17" height="14" viewBox="0 0 17 14"><polyline points="1,8.5 5,4.2 8.8,7.2 15.2,0.8" fill="none" stroke="#3d8cc6" stroke-width="2"/><rect x="0" y="11.4" width="16" height="2" fill="#3d8cc6"/></svg>
<div class="t" style="left:1260.3px;top:639.6px;font-size:13px;color:#505050;font-weight:bold;transform:scaleY(1.06);transform-origin:0 11.01px;">In Errors</div>
<div class="r" style="left:1229px;top:660px;width:390px;height:30px;background:#f4f4f4;"></div>
<svg class="r" style="left:1240px;top:667.5px" width="17" height="14" viewBox="0 0 17 14"><polyline points="1,8.5 5,4.2 8.8,7.2 15.2,0.8" fill="none" stroke="#3d8cc6" stroke-width="2"/><rect x="0" y="11.4" width="16" height="2" fill="#3d8cc6"/></svg>
<div class="t" style="left:1260.3px;top:669.6px;font-size:13px;color:#505050;font-weight:bold;transform:scaleY(1.06);transform-origin:0 11.01px;">Out Errors</div>
<div class="r" style="left:1229px;top:690px;width:390px;height:30px;background:#fff;"></div>
<svg class="r" style="left:1240px;top:697.5px" width="17" height="14" viewBox="0 0 17 14"><polyline points="1,8.5 5,4.2 8.8,7.2 15.2,0.8" fill="none" stroke="#3d8cc6" stroke-width="2"/><rect x="0" y="11.4" width="16" height="2" fill="#3d8cc6"/></svg>
<div class="t" style="left:1260.3px;top:699.6px;font-size:13px;color:#505050;font-weight:bold;transform:scaleY(1.06);transform-origin:0 11.01px;">In Discards</div>
<div class="r" style="left:1229px;top:720px;width:390px;height:30px;background:#f4f4f4;"></div>
<svg class="r" style="left:1240px;top:727.5px" width="17" height="14" viewBox="0 0 17 14"><polyline points="1,8.5 5,4.2 8.8,7.2 15.2,0.8" fill="none" stroke="#3d8cc6" stroke-width="2"/><rect x="0" y="11.4" width="16" height="2" fill="#3d8cc6"/></svg>
<div class="t" style="left:1260.3px;top:729.6px;font-size:13px;color:#505050;font-weight:bold;transform:scaleY(1.06);transform-origin:0 11.01px;">Out Discards</div>
<div class="r" style="left:1229px;top:750px;width:390px;height:30px;background:#fff;"></div>
<svg class="r" style="left:1240px;top:757.5px" width="17" height="14" viewBox="0 0 17 14"><polyline points="1,8.5 5,4.2 8.8,7.2 15.2,0.8" fill="none" stroke="#3d8cc6" stroke-width="2"/><rect x="0" y="11.4" width="16" height="2" fill="#3d8cc6"/></svg>
<div class="t" style="left:1260.3px;top:759.6px;font-size:13px;color:#505050;font-weight:bold;transform:scaleY(1.06);transform-origin:0 11.01px;">Tx</div>
<div class="r" style="left:1229px;top:780px;width:390px;height:30px;background:#f4f4f4;"></div>
<svg class="r" style="left:1240px;top:787.5px" width="17" height="14" viewBox="0 0 17 14"><polyline points="1,8.5 5,4.2 8.8,7.2 15.2,0.8" fill="none" stroke="#3d8cc6" stroke-width="2"/><rect x="0" y="11.4" width="16" height="2" fill="#3d8cc6"/></svg>
<div class="t" style="left:1260.3px;top:789.6px;font-size:13px;color:#505050;font-weight:bold;transform:scaleY(1.06);transform-origin:0 11.01px;">Rx</div>
<!--RIGHT-->
</body></html>
